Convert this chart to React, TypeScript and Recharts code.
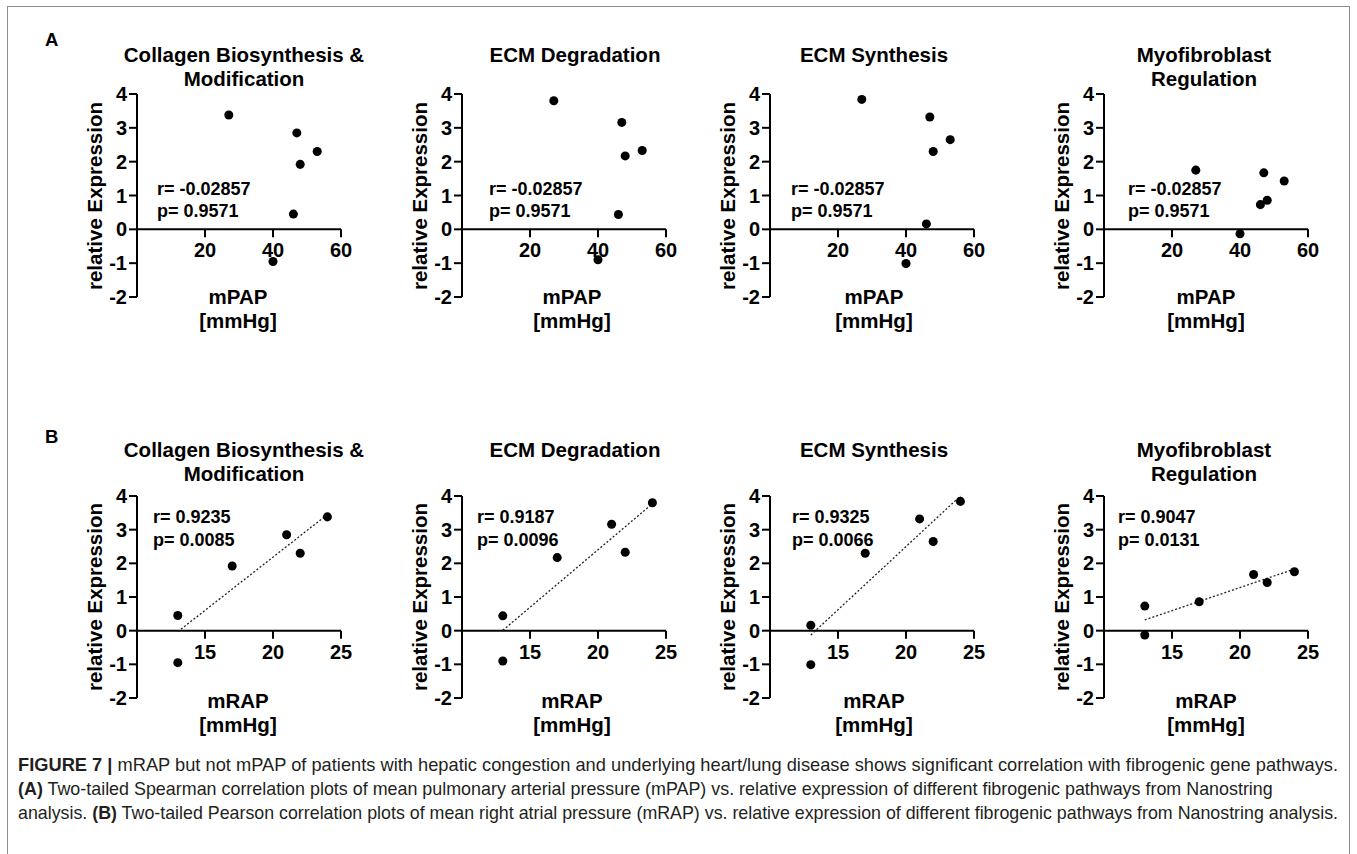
import React, { useLayoutEffect, useRef, useState } from 'react';
import { ScatterChart, Scatter, XAxis, YAxis, ReferenceLine, ReferenceDot } from 'recharts';

// ---------- data ----------
const pathwayTitles: string[][] = [
  ['Collagen Biosynthesis &', 'Modification'],
  ['ECM Degradation'],
  ['ECM Synthesis'],
  ['Myofibroblast', 'Regulation'],
];
const mPAP = [27, 47, 48, 53, 46, 40];
const mRAP = [24, 21, 17, 22, 13, 13];
const collagen = [3.38, 2.85, 1.92, 2.3, 0.45, -0.95];
const ecmDegradation = [3.8, 3.16, 2.17, 2.33, 0.44, -0.9];
const ecmSynthesis = [3.84, 3.32, 2.3, 2.65, 0.16, -1.01];
const myofibroblast = [1.75, 1.67, 0.86, 1.43, 0.73, -0.13];
const pathwayValues = [collagen, ecmDegradation, ecmSynthesis, myofibroblast];

const yTicks = [-2, -1, 0, 1, 2, 3, 4];
const mPAPTicks = [20, 40, 60];
const mRAPTicks = [15, 20, 25];

const spearmanR = ['-0.02857', '-0.02857', '-0.02857', '-0.02857'];
const spearmanP = ['0.9571', '0.9571', '0.9571', '0.9571'];
const pearsonR = ['0.9235', '0.9187', '0.9325', '0.9047'];
const pearsonP = ['0.0085', '0.0096', '0.0066', '0.0131'];

const fitX = [13, 24];
const fitStartY = [-0.03, 0.01, -0.13, 0.32];
const fitEndY = [3.45, 3.77, 4.0, 1.83];

// ---------- layout / style ----------
const FONT = '"Liberation Sans", Arial, Helvetica, sans-serif';
const AXIS_X = [137, 462, 770, 1104];
const PLOT_W = 204;
const Y_AXIS_W = 70;
const RIGHT_M = 14;
const CAPTION_WIDTHS = [1320, 1255, 1320];

type RowCfg = {
  plotTop: number;
  plotH: number;
  xs: number[];
  xDomain: [number, number];
  xTicks: number[];
  xName: string;
  rVals: string[];
  pVals: string[];
  statsLeft: number[];
  statsY: number;
  titleY: number;
  titleCx: number[];
  xLabelCx: number[];
  xLabelY: number;
  fit: boolean;
  letter: string;
  letterY: number;
};

const rows: RowCfg[] = [
  {
    plotTop: 94, plotH: 203, xs: mPAP, xDomain: [0, 60], xTicks: mPAPTicks, xName: 'mPAP',
    rVals: spearmanR, pVals: spearmanP, statsLeft: [157, 489, 791, 1128], statsY: 189,
    titleY: 55, titleCx: [244, 575, 874, 1204], xLabelCx: [238, 572, 874, 1206], xLabelY: 297,
    fit: false, letter: 'A', letterY: 40,
  },
  {
    plotTop: 496, plotH: 202, xs: mRAP, xDomain: [10, 25], xTicks: mRAPTicks, xName: 'mRAP',
    rVals: pearsonR, pVals: pearsonP, statsLeft: [153, 477, 792, 1118], statsY: 517.5,
    titleY: 450, titleCx: [244, 575, 874, 1204], xLabelCx: [238, 572, 874, 1206], xLabelY: 701,
    fit: true, letter: 'B', letterY: 437,
  },
];

function CenterText({ cx, cy, lines, size, lh, weight = 700 }: any) {
  return (
    <div
      style={{
        position: 'absolute', left: cx - 250, width: 500, top: cy - lh / 2,
        textAlign: 'center', fontSize: size, lineHeight: `${lh}px`, fontWeight: weight,
        fontFamily: FONT, color: '#000', whiteSpace: 'nowrap',
      }}
    >
      {lines.map((l: string, i: number) => (
        <div key={i}>{l}</div>
      ))}
    </div>
  );
}

function XTickShape(props: any) {
  const { cx, cy, value } = props;
  if (cx == null || cy == null) return <g />;
  return (
    <g>
      <line x1={cx} y1={cy} x2={cx} y2={cy + 8} stroke="#000" strokeWidth={2} />
      <text x={cx} y={cy + 28} textAnchor="middle" fill="#000" fontSize={20} fontWeight={700} fontFamily={FONT}>
        {value}
      </text>
    </g>
  );
}

function Panel({ row, idx }: { row: RowCfg; idx: number }) {
  const ys = pathwayValues[idx];
  const data = row.xs.map((x, i) => ({ x, y: ys[i] }));
  const W = Y_AXIS_W + PLOT_W + RIGHT_M;
  const H = row.plotH + 20;
  return (
    <div style={{ position: 'absolute', left: AXIS_X[idx] - Y_AXIS_W, top: row.plotTop - 10 }}>
      <ScatterChart width={W} height={H} margin={{ top: 10, right: RIGHT_M, bottom: 10, left: 0 }}>
        <XAxis type="number" dataKey="x" domain={row.xDomain} hide allowDataOverflow />
        <YAxis
          type="number"
          dataKey="y"
          domain={[-2, 4]}
          ticks={yTicks}
          interval={0}
          width={Y_AXIS_W}
          allowDataOverflow
          axisLine={{ stroke: '#000', strokeWidth: 2 }}
          tickLine={{ stroke: '#000', strokeWidth: 2 }}
          tickSize={8}
          tickMargin={2}
          tick={{ fill: '#000', fontSize: 20, fontWeight: 700, fontFamily: FONT }}
        />
        <ReferenceLine y={0} stroke="#000" strokeWidth={2} ifOverflow="visible" />
        {row.xTicks.map((t) => (
          <ReferenceDot
            key={t}
            x={t}
            y={0}
            r={0}
            ifOverflow="visible"
            shape={(p: any) => <XTickShape {...p} value={t} />}
          />
        ))}
        {row.fit && (
          <ReferenceLine
            segment={[
              { x: fitX[0], y: fitStartY[idx] },
              { x: fitX[1], y: fitEndY[idx] },
            ]}
            stroke="#222"
            strokeWidth={1.3}
            strokeDasharray="2 2"
            ifOverflow="visible"
          />
        )}
        <Scatter data={data} fill="#000" isAnimationActive={false} />
      </ScatterChart>
    </div>
  );
}

function CaptionLine({ target, children }: { target: number; children: React.ReactNode }) {
  const ref = useRef<HTMLSpanElement>(null);
  const [scale, setScale] = useState(1);
  useLayoutEffect(() => {
    if (ref.current) {
      const w = ref.current.offsetWidth;
      if (w > 0) setScale(target / w);
    }
  }, [target]);
  return (
    <div style={{ height: 24 }}>
      <span
        ref={ref}
        style={{ display: 'inline-block', transform: `scaleX(${scale})`, transformOrigin: '0 0' }}
      >
        {children}
      </span>
    </div>
  );
}

function Caption() {
  return (
    <div
      style={{
        position: 'absolute', left: 18, top: 753, fontFamily: FONT, fontSize: 19,
        lineHeight: '24px', color: '#231f20', whiteSpace: 'nowrap',
      }}
    >
      <CaptionLine target={CAPTION_WIDTHS[0]}>
        <b>FIGURE 7 |</b> mRAP but not mPAP of patients with hepatic congestion and underlying heart/lung disease shows significant correlation with fibrogenic gene pathways.
      </CaptionLine>
      <CaptionLine target={CAPTION_WIDTHS[1]}>
        <b>(A)</b> Two-tailed Spearman correlation plots of mean pulmonary arterial pressure (mPAP) vs. relative expression of different fibrogenic pathways from Nanostring
      </CaptionLine>
      <CaptionLine target={CAPTION_WIDTHS[2]}>
        analysis. <b>(B)</b> Two-tailed Pearson correlation plots of mean right atrial pressure (mRAP) vs. relative expression of different fibrogenic pathways from Nanostring analysis.
      </CaptionLine>
    </div>
  );
}

export default function App() {
  return (
    <div
      style={{
        position: 'absolute', left: 0, top: 0, width: 1357, height: 854, background: '#fff',
        overflow: 'hidden', fontFamily: FONT,
      }}
    >
      <div
        style={{
          position: 'absolute', left: 7, top: 6, width: 1343, height: 900,
          border: '1.5px solid #8c8c8c', boxSizing: 'border-box',
        }}
      />
      {rows.map((row, r) => (
        <React.Fragment key={r}>
          <div
            style={{
              position: 'absolute', left: 45, top: row.letterY - 11, lineHeight: '22px',
              fontSize: 18.5, fontWeight: 700, fontFamily: FONT,
            }}
          >
            {row.letter}
          </div>
          {pathwayTitles.map((title, i) => (
            <React.Fragment key={i}>
              <CenterText cx={row.titleCx[i]} cy={row.titleY} lines={title} size={20.5} lh={23.5} />
              <Panel row={row} idx={i} />
              <div
                style={{
                  position: 'absolute', left: AXIS_X[i] - 42 - 140, width: 280,
                  top: row.plotTop + row.plotH / 2 - 12, lineHeight: '24px', height: 24,
                  textAlign: 'center', fontSize: 20.5, fontWeight: 700, fontFamily: FONT,
                  transform: 'rotate(-90deg)', whiteSpace: 'nowrap',
                }}
              >
                relative Expression
              </div>
              <CenterText cx={row.xLabelCx[i]} cy={row.xLabelY} lines={[row.xName, '[mmHg]']} size={20.5} lh={24} />
              <div
                style={{
                  position: 'absolute', left: row.statsLeft[i], top: row.statsY - 11.3,
                  fontSize: 18, lineHeight: '22.6px', fontWeight: 700, fontFamily: FONT, whiteSpace: 'nowrap',
                }}
              >
                <div>{`r= ${row.rVals[i]}`}</div>
                <div>{`p= ${row.pVals[i]}`}</div>
              </div>
            </React.Fragment>
          ))}
        </React.Fragment>
      ))}
      <Caption />
    </div>
  );
}
